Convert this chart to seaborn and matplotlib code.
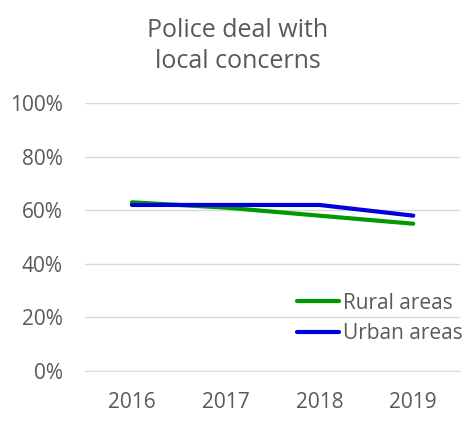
import pandas as pd
import matplotlib.pyplot as plt
import seaborn as sns
from matplotlib.ticker import FixedLocator, PercentFormatter

years = ["2016", "2017", "2018", "2019"]
rural = [63, 61, 58, 55]
urban = [62, 62, 62, 58]

df = pd.DataFrame({
    "year": years * 2,
    "value": rural + urban,
    "area": ["Rural areas"] * 4 + ["Urban areas"] * 4,
})

sns.set_style("white")
plt.rcParams["font.family"] = ["Open Sans", "DejaVu Sans"]
grey = "#595959"

fig = plt.figure(figsize=(4.62, 4.28), dpi=100)
ax = fig.add_axes([0.184, 0.133, 0.812, 0.626])

sns.lineplot(data=df, x="year", y="value", hue="area", ax=ax,
             palette={"Rural areas": "#009900", "Urban areas": "#0000dd"},
             linewidth=3, sort=False)
for ln in ax.get_lines():
    ln.set_solid_capstyle("round")

ax.set_ylim(0, 100)
ax.set_xlim(-0.5, 3.5)
ax.set_yticks([0, 20, 40, 60, 80, 100])
ax.yaxis.set_major_formatter(PercentFormatter(decimals=0))
ax.grid(axis="y", color="#d9d9d9", linewidth=1)
ax.set_axisbelow(True)

# category boundaries as tick marks, labels in the middle
ax.xaxis.set_major_locator(FixedLocator([-0.5, 0.5, 1.5, 2.5, 3.5]))
ax.xaxis.set_major_formatter(plt.NullFormatter())
ax.xaxis.set_minor_locator(FixedLocator([0, 1, 2, 3]))
ax.set_xticklabels(years, minor=True)
ax.tick_params(axis="x", which="major", length=6, color="#d9d9d9", width=1, direction="out")
ax.tick_params(axis="x", which="minor", length=0, pad=15, labelsize=15, labelcolor=grey)
ax.tick_params(axis="y", length=0, pad=16, labelsize=15, labelcolor=grey)

for s in ["top", "right", "left"]:
    ax.spines[s].set_visible(False)
ax.spines["bottom"].set_color("#d9d9d9")

ax.set_xlabel("")
ax.set_ylabel("")

leg = ax.legend(loc="lower right", bbox_to_anchor=(1.03, 0.07), frameon=False,
                fontsize=15, handlelength=2.0, handletextpad=0.2,
                labelspacing=0.45, borderaxespad=0)
for t in leg.get_texts():
    t.set_color(grey)

fig.text(0.515, 0.893, "Police deal with\nlocal concerns", ha="center", va="center",
         fontsize=18, color=grey, linespacing=1.3)

plt.savefig("out.png", dpi=100)
